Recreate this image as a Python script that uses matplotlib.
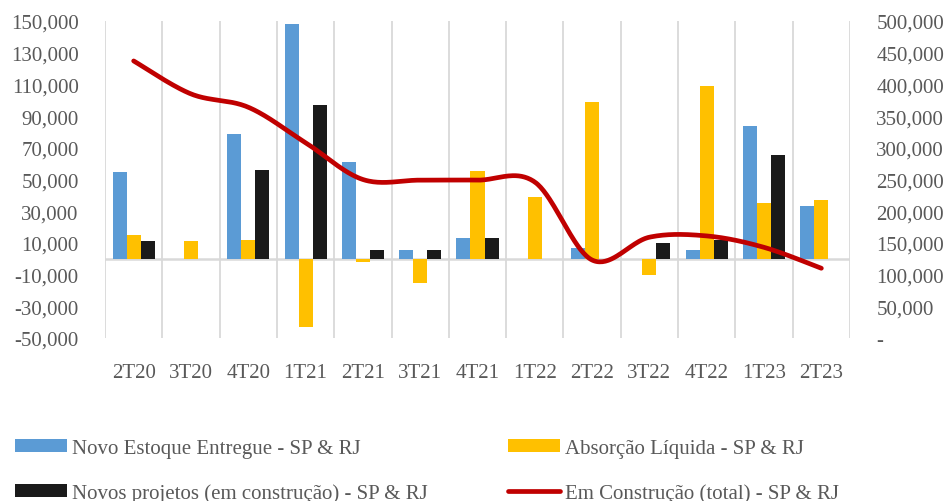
import numpy as np
import matplotlib
matplotlib.use("Agg")
from matplotlib import pyplot as plt
from matplotlib.ticker import FuncFormatter

# data
quarters = ["2T20", "3T20", "4T20", "1T21", "2T21", "3T21", "4T21",
            "1T22", "2T22", "3T22", "4T22", "1T23", "2T23"]
novo_estoque = [55000, 0, 78500, 148000, 61000, 5500, 13000,
                0, 6800, 0, 5800, 84000, 33300]
absorcao = [15000, 11000, 12000, -43300, -1800, -15500, 55200,
            39000, 99000, -10500, 109000, 35200, 37300]
novos_projetos = [11400, 0, 56200, 96800, 5500, 5500, 13000,
                  0, 0, 10200, 11800, 65500, 0]
em_construcao = [437000, 385000, 364000, 308000, 250000, 249000, 249000,
                 246000, 123000, 159000, 161000, 143000, 110000]

labels = ["Novo Estoque Entregue - SP & RJ", "Absorção Líquida - SP & RJ",
          "Novos projetos (em construção) - SP & RJ",
          "Em Construção (total) - SP & RJ"]

blue = "#5B9BD5"
yellow = "#FFC000"
black = "#1A1A1A"
red = "#C00000"
gray_txt = "#595959"
grid = "#D9D9D9"

plt.rcParams["font.family"] = ["Liberation Serif", "DejaVu Serif"]

fig = plt.figure(figsize=(9.49, 5.02), dpi=100)
ax = fig.add_axes([105 / 949, 1 - 339 / 502, 745 / 949, 317 / 502])

x = np.arange(len(quarters))
w = 0.245
b1 = ax.bar(x - w, novo_estoque, w, color=blue, zorder=2)
b2 = ax.bar(x, absorcao, w, color=yellow, zorder=2)
b3 = ax.bar(x + w, novos_projetos, w, color=black, zorder=2)

ax.set_xlim(-0.5, len(quarters) - 0.5)
ax.set_ylim(-50000, 150000)
ax.set_yticks(np.arange(-50000, 150001, 20000))
ax.yaxis.set_major_formatter(FuncFormatter(lambda v, p: f"{v:,.0f}"))
ax.set_xticks(x)
ax.set_xticklabels(quarters)

# vertical gridlines between categories + zero line
for xb in np.arange(-0.5, len(quarters), 1.0):
    ax.axvline(xb, color=grid, lw=1.3, zorder=0)
ax.axhline(0, color=grid, lw=1.8, zorder=1)

for s in ax.spines.values():
    s.set_visible(False)
ax.tick_params(axis="both", length=0, labelsize=15, colors=gray_txt)
ax.tick_params(axis="y", pad=19)
ax.tick_params(axis="x", pad=18)

# right axis, smoothed line
ax2 = ax.twinx()
ax2.set_ylim(0, 500000)
ax2.set_yticks(np.arange(0, 500001, 50000))
ax2.yaxis.set_major_formatter(
    FuncFormatter(lambda v, p: "-" if v == 0 else f"{v:,.0f}"))
for s in ax2.spines.values():
    s.set_visible(False)
ax2.tick_params(axis="y", length=0, labelsize=15, colors=gray_txt, pad=19)

# catmull-rom style bezier through the points (like excel smoothed line)
pts = np.column_stack([x, em_construcao]).astype(float)
ext = np.vstack([pts[0], pts, pts[-1]])
curve = []
t = np.linspace(0, 1, 40)[:, None]
for i in range(len(pts) - 1):
    p0, p3 = ext[i + 1], ext[i + 2]
    c1 = p0 + (ext[i + 2] - ext[i]) / 6
    c2 = p3 - (ext[i + 3] - ext[i + 1]) / 6
    seg = ((1 - t) ** 3) * p0 + 3 * ((1 - t) ** 2) * t * c1 \
        + 3 * (1 - t) * t ** 2 * c2 + t ** 3 * p3
    curve.append(seg)
curve = np.vstack(curve)
ln, = ax2.plot(curve[:, 0], curve[:, 1], color=red, lw=3.4,
               solid_capstyle="round", zorder=3)

# legend in two columns, second row cut by the figure edge
leg_kw = dict(frameon=False, fontsize=15, handlelength=2.5, handleheight=0.55,
              handletextpad=0.25, labelspacing=1.2, labelcolor=gray_txt,
              loc="upper left", borderaxespad=0, borderpad=0)
leg1 = fig.legend([b1, b3], [labels[0], labels[2]],
                  bbox_to_anchor=(15 / 949, 1 - 440 / 502), **leg_kw)
leg2 = fig.legend([b2, ln], [labels[1], labels[3]],
                  bbox_to_anchor=(508 / 949, 1 - 440 / 502), **leg_kw)

plt.savefig("out.png", dpi=100)
